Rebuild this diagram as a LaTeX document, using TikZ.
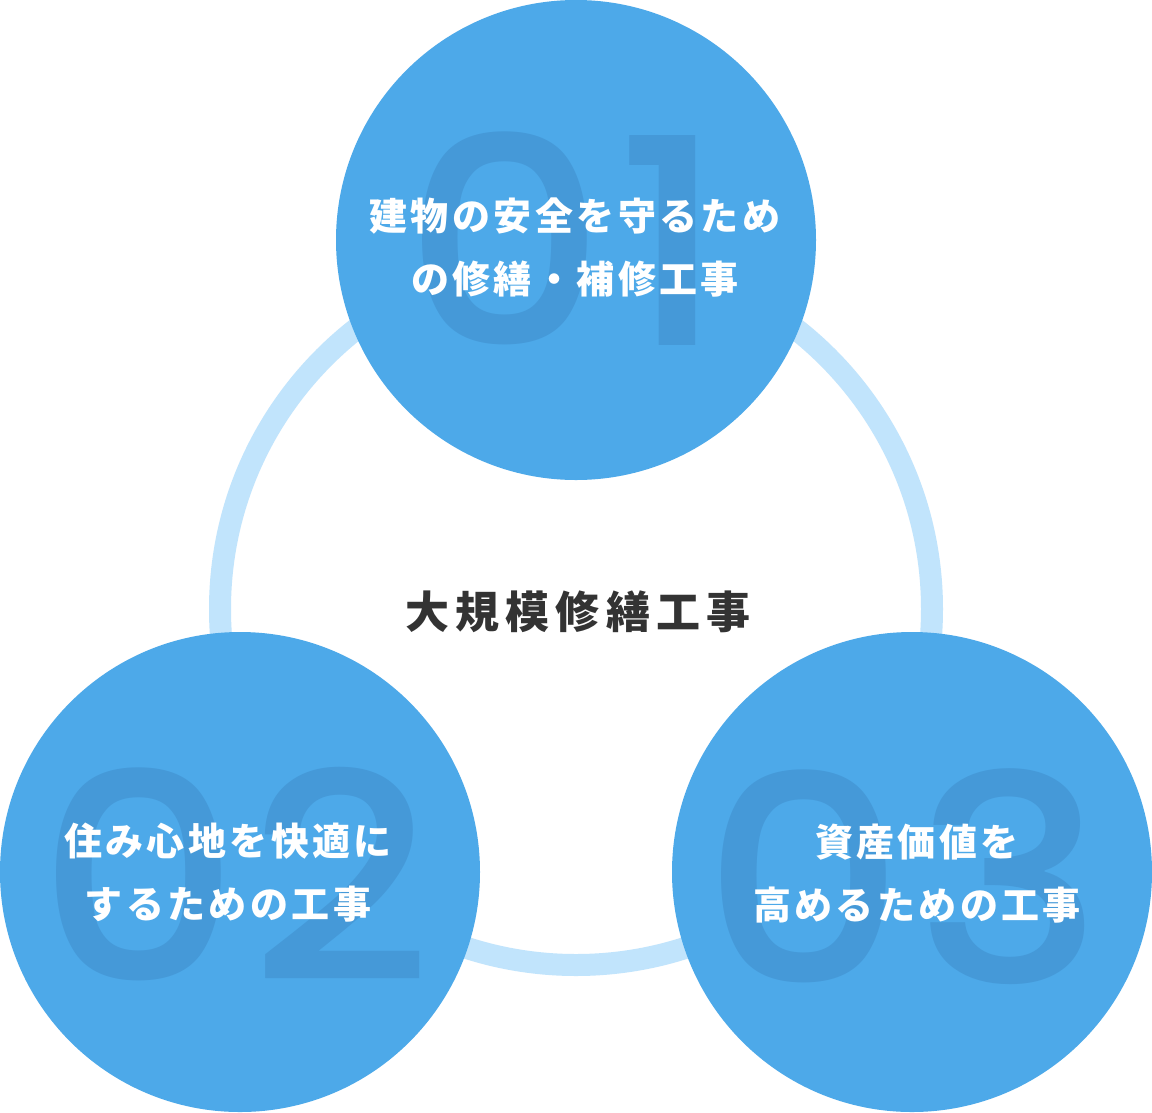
\documentclass[tikz,border=0pt]{standalone}
\usepackage{fontspec}
\usepackage{graphicx}
\setmainfont{Noto Sans CJK JP}
\newfontfamily\jpfont{Noto Sans CJK JP}[LetterSpace=9]
\newfontfamily\titlefont{Noto Sans CJK JP}[LetterSpace=14]
\newfontfamily\digitfont{Poppins Medium}[LetterSpace=3]
\definecolor{circblue}{HTML}{4DA9E9}
\definecolor{digitblue}{HTML}{4599D8}
\definecolor{ringblue}{HTML}{C1E4FC}
\definecolor{titlegray}{HTML}{333333}
\newcommand{\widedigits}[1]{\scalebox{1.1}[1]{#1}}
\tikzset{
  bigcirc/.style={circle, fill=circblue, minimum size=480pt, inner sep=0pt},
  ringstyle/.style={circle, draw=ringblue, line width=22pt, minimum size=712pt, inner sep=0pt},
  bignum/.style={text=digitblue, font=\digitfont\fontsize{288}{288}\selectfont, inner sep=0pt},
  label/.style={text=white, align=center, font=\jpfont\bfseries\fontsize{38}{63}\selectfont, inner sep=0pt},
  titletext/.style={text=titlegray, font=\titlefont\bfseries\fontsize{44}{50}\selectfont, inner sep=0pt}
}
\begin{document}
\begin{tikzpicture}[x=1pt,y=-1pt]
\useasboundingbox (0,0) rectangle (1152,1112);
\fill[white] (0,0) rectangle (1152,1112);
\node[ringstyle] (ring) at (576,609) {};
\node[bigcirc] (c1) at (576,240) {};
\node[bigcirc] (c2) at (240,872) {};
\node[bigcirc] (c3) at (912,872) {};
\node[bignum] (n1) at (565,239) {\widedigits{01}};
\node[bignum] (n2) at (235,874) {\widedigits{02}};
\node[bignum] (n3) at (903,877) {\widedigits{03}};
\node[label] (t1) at (575,248) {建物の安全を守るため\\の修繕・補修工事};
\node[label] (t2) at (228,873) {住み心地を快適に\\するための工事};
\node[label] (t3) at (917,874) {資産価値を\\高めるための工事};
\node[titletext] (title) at (578,612) {大規模修繕工事};
\end{tikzpicture}
\end{document}
